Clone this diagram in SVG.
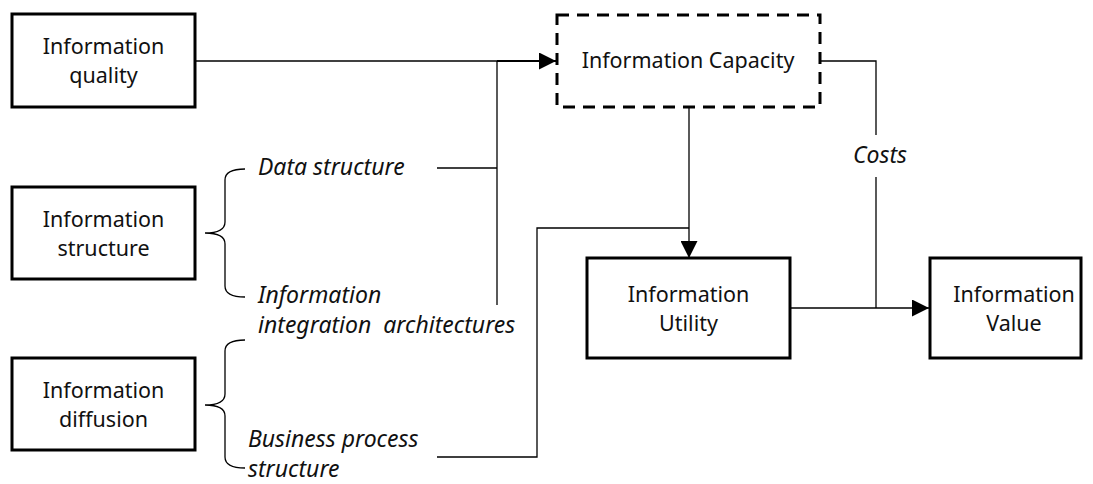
<svg xmlns="http://www.w3.org/2000/svg" width="1093" height="484" viewBox="0 0 1093 484">
  <style>
    .box { fill: #ffffff; stroke: #000000; stroke-width: 3; }
    .dash { fill: #ffffff; stroke: #000000; stroke-width: 3; stroke-dasharray: 12 8; }
    .lbl { font-family: "Noto Sans", "Open Sans", sans-serif; font-size: 21.5px; fill: #111111; text-anchor: middle; }
    .it { font-family: "Noto Sans", "Open Sans", sans-serif; font-size: 23px; font-style: italic; fill: #111111; }
    .wire { fill: none; stroke: #000000; stroke-width: 1.3; }
    .thick { fill: none; stroke: #000000; stroke-width: 2; }
    .brace { fill: none; stroke: #000000; stroke-width: 1.3; }
  </style>
  <defs>
    <marker id="arr" viewBox="0 0 17 17" refX="17" refY="8.5" markerWidth="17" markerHeight="17" orient="auto" markerUnits="userSpaceOnUse">
      <path d="M0,0 L17,8.5 L0,17 z" fill="#000000"/>
    </marker>
  </defs>
  <rect width="1093" height="484" fill="#ffffff"/>

  <g id="connectors">
    <path class="wire" d="M195,61 H497"/>
    <path class="thick" d="M497,61 H556" marker-end="url(#arr)"/>
    <path class="wire" d="M437,168 H497"/>
    <path class="wire" d="M497,305 V61"/>
    <path class="wire" d="M689,107 V258" marker-end="url(#arr)"/>
    <path class="wire" d="M437,457 H537 V228 H689"/>
    <path class="wire" d="M820,61 H876 V135"/>
    <path class="wire" d="M876,177 V308"/>
    <path class="wire" d="M790,308 H929" marker-end="url(#arr)"/>
  </g>

  <g id="quality">
    <rect class="box" x="12" y="14" width="183" height="93"/>
    <text class="lbl" x="103.5" y="54">Information</text>
    <text class="lbl" x="103.5" y="83">quality</text>
  </g>

  <g id="structure">
    <rect class="box" x="12" y="187" width="183" height="92"/>
    <text class="lbl" x="103.5" y="226.5">Information</text>
    <text class="lbl" x="103.5" y="255.5">structure</text>
    <path class="brace" d="M245,169 Q225,169 225,180 V222 Q225,233 205,233 Q225,233 225,244 V286 Q225,297 245,297"/>
    <text class="it" x="258" y="175">Data structure</text>
    <text class="it" x="258" y="303">Information</text>
    <text class="it" x="258" y="333" xml:space="preserve">integration  architectures</text>
  </g>

  <g id="diffusion">
    <rect class="box" x="12" y="358" width="183" height="92"/>
    <text class="lbl" x="103.5" y="397.5">Information</text>
    <text class="lbl" x="103.5" y="426.5">diffusion</text>
    <path class="brace" d="M245,340 Q225,340 225,351 V394 Q225,405 205,405 Q225,405 225,416 V457 Q225,468 245,468"/>
    <text class="it" x="248" y="447">Business process</text>
    <text class="it" x="248" y="477">structure</text>
  </g>

  <g id="capacity">
    <rect class="dash" x="557" y="15" width="263" height="92"/>
    <text class="lbl" x="688" y="68">Information Capacity</text>
  </g>

  <g id="costs">
    <text class="it" x="880" y="163" text-anchor="middle">Costs</text>
  </g>

  <g id="utility">
    <rect class="box" x="587" y="258" width="203" height="100"/>
    <text class="lbl" x="688.5" y="301.5">Information</text>
    <text class="lbl" x="688.5" y="330.5">Utility</text>
  </g>

  <g id="value">
    <rect class="box" x="930" y="258" width="151" height="100"/>
    <text class="lbl" x="1014" y="301.5">Information</text>
    <text class="lbl" x="1014" y="330.5">Value</text>
  </g>
</svg>
